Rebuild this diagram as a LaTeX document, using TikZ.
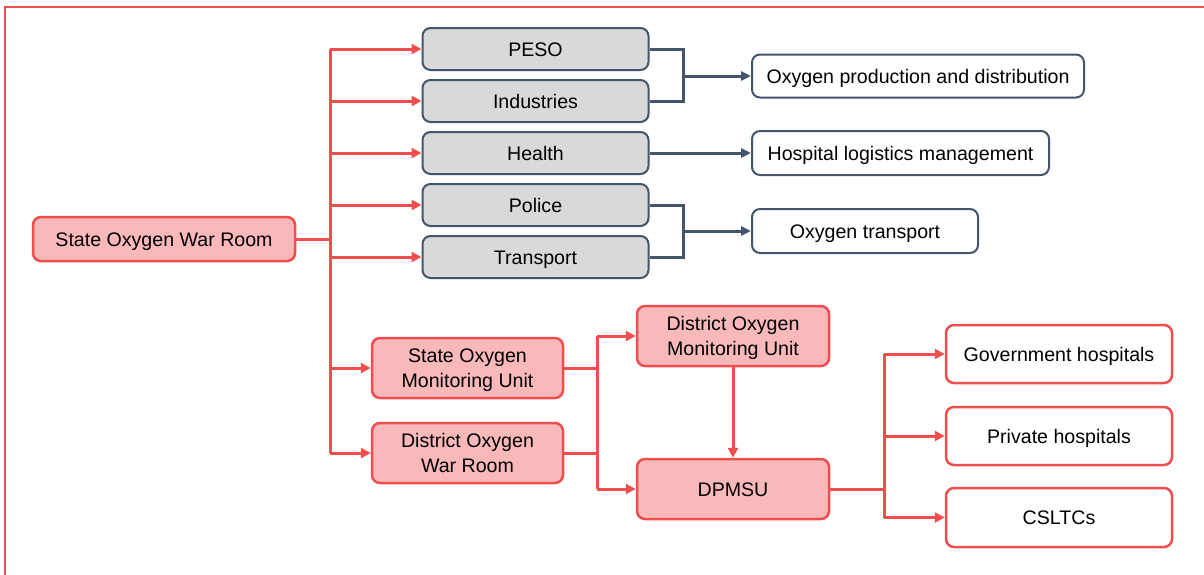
\documentclass[tikz,border=0pt]{standalone}
\usepackage{fontspec}
\setmainfont{Liberation Sans}
\usetikzlibrary{arrows.meta}
\definecolor{redc}{HTML}{F04E4E}
\definecolor{pinkc}{HTML}{F9B9BB}
\definecolor{grayc}{HTML}{D9D9D9}
\definecolor{slatec}{HTML}{44546A}
\tikzset{
  box/.style={rectangle, rounded corners=8pt, align=center, inner sep=0pt,
    font=\fontsize{19.6}{25}\selectfont, text=black, text height=14pt, text depth=0pt},
  two/.style={text height=39pt, text depth=0pt},
  redbox/.style={box, draw=redc, fill=pinkc, line width=2.5pt},
  graybox/.style={box, draw=slatec, fill=grayc, line width=2pt},
  whitebox/.style={box, draw=slatec, fill=white, line width=2pt},
  whiteredbox/.style={box, draw=redc, fill=white, line width=2.5pt},
  redline/.style={draw=redc, line width=3pt},
  redarrow/.style={redline, -{Triangle[length=10pt,width=10pt]}},
  dkline/.style={draw=slatec, line width=3pt},
  dkarrow/.style={dkline, -{Triangle[length=10pt,width=9pt]}},
}
\begin{document}
\begin{tikzpicture}[x=1pt,y=-1pt]
\useasboundingbox (0,0) rectangle (1204,574);
\draw[redc, line width=1.5pt] (5,580) -- (5,7) -- (1210,7);

\node[redbox, minimum width=262pt, minimum height=44pt] (sowr) at (164,239) {State Oxygen War Room};

\node[graybox, minimum width=226pt, minimum height=42pt] (peso) at (535.5,49) {PESO};
\node[graybox, minimum width=226pt, minimum height=42pt] (ind) at (535.5,101) {Industries};
\node[graybox, minimum width=226pt, minimum height=42pt] (health) at (535.5,153) {Health};
\node[graybox, minimum width=226pt, minimum height=42pt] (police) at (535.5,205) {Police};
\node[graybox, minimum width=226pt, minimum height=42pt] (transport) at (535.5,257) {Transport};

\node[whitebox, minimum width=332pt, minimum height=43pt] (opd) at (918,76) {Oxygen production and distribution};
\node[whitebox, minimum width=297pt, minimum height=44pt] (hlm) at (900.5,153) {Hospital logistics management};
\node[whitebox, minimum width=226pt, minimum height=44pt] (ot) at (865,231) {Oxygen transport};

\node[redbox, two, minimum width=191pt, minimum height=60pt] (somu) at (467.5,368) {State Oxygen\\Monitoring Unit};
\node[redbox, two, minimum width=191pt, minimum height=60pt] (dowr) at (467.5,453) {District Oxygen\\War Room};
\node[redbox, two, minimum width=192pt, minimum height=60pt] (domu) at (733,336) {District Oxygen\\Monitoring Unit};
\node[redbox, minimum width=192pt, minimum height=60pt] (dpmsu) at (733,489) {DPMSU};

\node[whiteredbox, minimum width=226pt, minimum height=58pt] (gov) at (1059,354) {Government hospitals};
\node[whiteredbox, minimum width=226pt, minimum height=58pt] (priv) at (1059,436) {Private hospitals};
\node[whiteredbox, minimum width=226pt, minimum height=59pt] (csl) at (1059,517.5) {CSLTCs};

% red trunk
\coordinate (t) at (330,0);
\draw[redline] (sowr.east) -- (t|-sowr.east);
\draw[redline] (t|-peso.west) -- (t|-dowr.west);
\foreach \n in {peso,ind,health,police,transport,somu,dowr}
  \draw[redarrow] (t|-\n.west) -- (\n.west);

% dark connectors
\coordinate (j1) at (683,76);
\draw[dkline] (peso.east) -| (j1);
\draw[dkline] (ind.east) -| (j1);
\draw[dkarrow] (j1) -- (opd.west);
\draw[dkarrow] (health.east) -- (hlm.west);
\coordinate (j2) at (683,231);
\draw[dkline] (police.east) -| (j2);
\draw[dkline] (transport.east) -| (j2);
\draw[dkarrow] (j2) -- (ot.west);

% lower red connectors
\coordinate (j3) at (597,0);
\draw[redline] (somu.east) -- (j3|-somu.east);
\draw[redline] (dowr.east) -- (j3|-dowr.east);
\draw[redline] (j3|-domu.west) -- (j3|-dpmsu.west);
\draw[redarrow] (j3|-domu.west) -- (domu.west);
\draw[redarrow] (j3|-dpmsu.west) -- (dpmsu.west);
\draw[redarrow] (domu.south) -- (dpmsu.north);

\coordinate (j4) at (884,0);
\draw[redline] (dpmsu.east) -- (j4|-dpmsu.east);
\draw[redline] (j4|-gov.west) -- (j4|-csl.west);
\foreach \n in {gov,priv,csl}
  \draw[redarrow] (j4|-\n.west) -- (\n.west);
\end{tikzpicture}
\end{document}
